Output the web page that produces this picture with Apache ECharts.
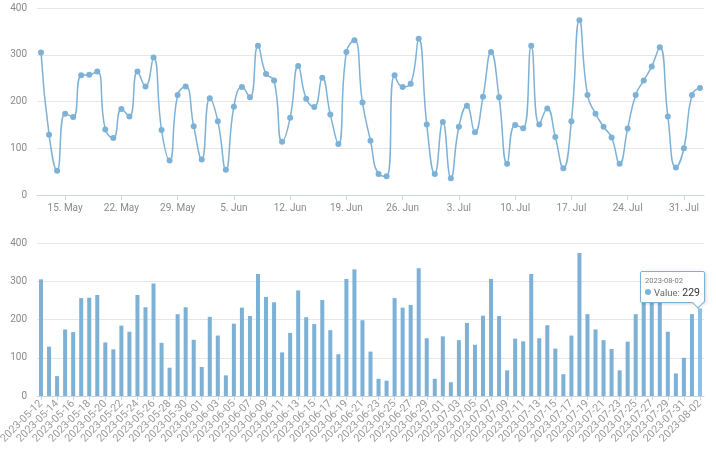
<!DOCTYPE html>
<html>
<head>
<meta charset="utf-8">
<script src="https://cdn.jsdelivr.net/npm/echarts@6/dist/echarts.min.js"></script>
<style>
html,body{margin:0;padding:0;background:#fff;overflow:hidden;}
#chart{width:716px;height:456px;}
</style>
</head>
<body>
<div id="chart"></div>
<script>
// ---- data ----
var startDate = '2023-05-12';
var dayCount = 83;
var values = [
  305, 129, 52, 174, 167, 256, 257, 264, 140, 122,
  184, 168, 264, 232, 294, 139, 74, 214, 232, 147,
  76, 207, 158, 54, 189, 231, 209, 319, 259, 245,
  114, 165, 276, 206, 188, 251, 172, 109, 306, 331,
  198, 116, 45, 40, 256, 231, 238, 334, 151, 45,
  156, 36, 146, 191, 134, 210, 306, 209, 67, 150,
  143, 319, 151, 185, 124, 57, 158, 374, 214, 174,
  146, 123, 67, 142, 214, 245, 275, 316, 168, 59,
  100, 214, 229
];
var weekTicks = ['2023-05-15','2023-05-22','2023-05-29','2023-06-05','2023-06-12','2023-06-19',
                 '2023-06-26','2023-07-03','2023-07-10','2023-07-17','2023-07-24','2023-07-31'];
var monthNames = ['Jan','Feb','Mar','Apr','May','Jun','Jul','Aug','Sep','Oct','Nov','Dec'];

// categories (dates)
function pad(n){ return n < 10 ? '0' + n : '' + n; }
var categories = [];
(function(){
  var p = startDate.split('-');
  var d = new Date(+p[0], +p[1] - 1, +p[2]);
  for (var i = 0; i < dayCount; i++) {
    categories.push(d.getFullYear() + '-' + pad(d.getMonth() + 1) + '-' + pad(d.getDate()));
    d.setDate(d.getDate() + 1);
  }
})();

function toTime(s){ var p = s.split('-'); return new Date(+p[0], +p[1]-1, +p[2]).getTime(); }
var DAY = 86400000;
var lineData = categories.map(function(c, i){ return [toTime(c), values[i]]; });
var tickTimes = weekTicks.map(toTime);

var color = '#7eb1d6';
var labelColor = '#8a8a8a';

var chart = echarts.init(document.getElementById('chart'), null, {renderer: 'canvas'});
var option = {
  animation: false,
  grid: [
    {left: 37, right: 12, top: 8, bottom: 261, containLabel: false, outerBoundsMode: 'none'},
    {left: 37, right: 12, top: 243, bottom: 60, containLabel: false, outerBoundsMode: 'none'}
  ],
  tooltip: {
    trigger: 'item',
    triggerOn: 'none',
    alwaysShowContent: true,
    backgroundColor: '#fff',
    borderColor: color,
    borderWidth: 1,
    padding: [3, 4],
    extraCssText: 'box-shadow: 1px 1px 3px rgba(0,0,0,0.18); border-radius:2px;',
    formatter: function(p){
      return '<div style="font-size:7.5px;color:#777;line-height:11px;font-family:Roboto,sans-serif;">' + p.name + '</div>' +
        '<div style="font-size:9.5px;color:#666;line-height:13px;font-family:Roboto,sans-serif;white-space:nowrap;">' +
        '<span style="display:inline-block;width:6px;height:6px;border-radius:3px;background:' + color + ';margin-right:3px;vertical-align:1px;"></span>' +
        'Value: <span style="color:#333;font-size:10.5px;">' + p.value + '</span></div>' +
        '<div style="position:absolute;right:2px;bottom:-5px;width:7px;height:7px;background:#fff;border-right:1px solid ' + color + ';border-bottom:1px solid ' + color + ';transform:rotate(45deg);"></div>';
    },
    position: function(point, params, dom, rect, size){
      var px = chart.convertToPixel({gridIndex: 1}, [params.dataIndex, params.value]);
      var w = size.contentSize[0], h = size.contentSize[1];
      return [px[0] + 5 - w, px[1] - h - 5];
    }
  },
  xAxis: [
    {
      type: 'value',
      gridIndex: 0,
      min: toTime(startDate) - DAY / 2,
      max: toTime(categories[categories.length - 1]) + DAY / 2,
      axisLine: {show: true, lineStyle: {color: '#ccd6e0'}},
      axisTick: {show: true, customValues: tickTimes, length: 5, lineStyle: {color: '#ccd6e0'}},
      axisLabel: {
        customValues: tickTimes,
        color: labelColor,
        fontSize: 10,
        fontFamily: 'Roboto',
        formatter: function(v){ var d = new Date(v); return d.getDate() + '. ' + monthNames[d.getMonth()]; }
      },
      splitLine: {show: false}
    },
    {
      type: 'category',
      gridIndex: 1,
      data: categories,
      axisLine: {show: true, lineStyle: {color: '#ccd6e0'}},
      axisTick: {show: true, alignWithLabel: true, interval: 1, length: 4, lineStyle: {color: '#ccd6e0'}},
      axisLabel: {
        interval: 1,
        rotate: 45,
        color: '#9a9a9a',
        fontSize: 10.8,
        fontFamily: 'Roboto',
        margin: 6,
        showMinLabel: true,
        showMaxLabel: true,
        hideOverlap: false
      }
    }
  ],
  yAxis: [
    {
      type: 'value', gridIndex: 0, min: 0, max: 400, interval: 100,
      axisLine: {show: false}, axisTick: {show: false},
      axisLabel: {color: labelColor, fontSize: 10, fontFamily: 'Roboto', margin: 10},
      splitLine: {lineStyle: {color: '#e6e6e6'}}
    },
    {
      type: 'value', gridIndex: 1, min: 0, max: 400, interval: 100,
      axisLine: {show: false}, axisTick: {show: false},
      axisLabel: {color: labelColor, fontSize: 10, fontFamily: 'Roboto', margin: 10},
      splitLine: {lineStyle: {color: '#e6e6e6'}}
    }
  ],
  series: [
    {
      name: 'Value',
      type: 'line',
      xAxisIndex: 0, yAxisIndex: 0,
      data: lineData,
      smooth: true,
      symbol: 'circle',
      symbolSize: 6,
      itemStyle: {color: color},
      lineStyle: {color: color, width: 1.5},
      tooltip: {show: false}
    },
    {
      name: 'Value',
      type: 'bar',
      xAxisIndex: 1, yAxisIndex: 1,
      data: values,
      barCategoryGap: '50%',
      itemStyle: {color: color}
    }
  ]
};
chart.setOption(option);
setTimeout(function(){
  chart.dispatchAction({type: 'highlight', seriesIndex: 1, dataIndex: dayCount - 1});
  chart.dispatchAction({type: 'showTip', seriesIndex: 1, dataIndex: dayCount - 1});
}, 50);
</script>
</body>
</html>
